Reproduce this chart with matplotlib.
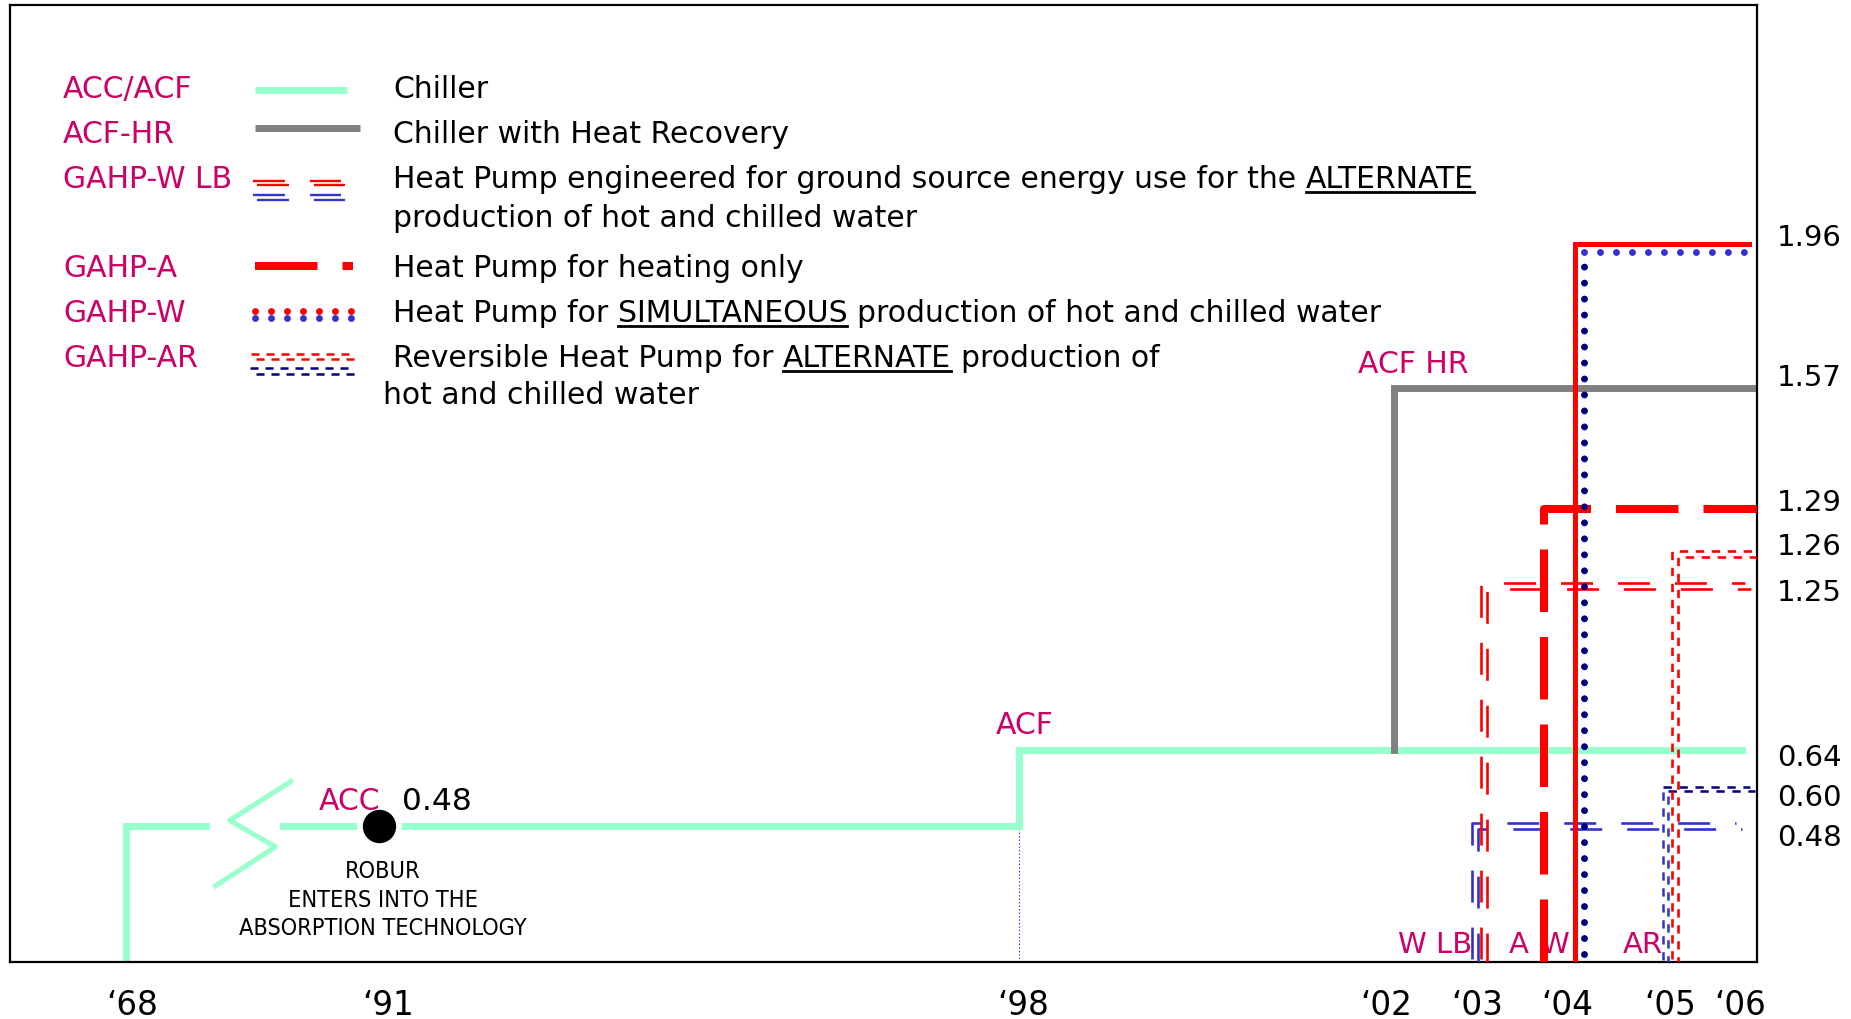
import numpy as np
import matplotlib
matplotlib.use("Agg")
import matplotlib.pyplot as plt
import matplotlib.patheffects as pe
import matplotlib.transforms as mtransforms
from matplotlib.lines import Line2D

W, H, DPI = 1851, 1020, 100

plt.rcParams["font.family"] = ["DejaVu Sans"]
plt.rcParams["lines.scale_dashes"] = False

MAGENTA = "#CC0066"
GREEN = "#99FFCC"
GRAY = "#808080"
RED = "#FF0000"
BLUE = "#3333CC"
NAVY = "#000080"

# ── schematic axes: where each year / COP level sits along the frame ──
axis_years = [1957.6, 1968, 1991, 1998, 2002, 2003, 2004, 2005, 2006, 2006.2]
axis_year_pos = [10, 126, 379, 1019, 1394, 1478, 1569, 1670, 1742, 1757]
year_ticks = [1968, 1991, 1998, 2002, 2003, 2004, 2005, 2006]
year_labels = ["‘68", "‘91", "‘98", "‘02", "‘03", "‘04", "‘05", "‘06"]
year_label_nudge = [4.3, 6.5, 2.9, -5.8, -0.7, -1.4, 0, -1.4]   # pt

axis_cop = [0.0, 0.48, 0.60, 0.64, 1.25, 1.26, 1.29, 1.57, 1.96, 2.60]
axis_cop_pos = [0, 136, 173, 212, 376, 408, 453, 574, 718, 957]
cop_ticks = [1.96, 1.57, 1.29, 1.26, 1.25, 0.64, 0.60, 0.48]
cop_label_nudge = [5, 8, 5, 6, -4, -5, -6, -8]   # pt, keeps labels apart

# ── product lines ──
chiller_years = [1968, 1998]          # ACC, then ACF
chiller_cop = [0.48, 0.64]
chiller_end = 2006
robur_year, robur_cop = 1991, 0.48

acf_hr_year, acf_hr_cop = 2002, 1.57
wlb_year, wlb_hot, wlb_cold = 2003, 1.25, 0.48
a_year, a_hot = 2003.72, 1.29
w_year, w_hot, w_cold = 2004.06, 1.96, 1.96
ar_year, ar_hot, ar_cold = 2005, 1.26, 0.60


def fwd_x(v):
    return np.interp(v, axis_years, axis_year_pos)


def inv_x(p):
    return np.interp(p, axis_year_pos, axis_years)


def fwd_y(v):
    return np.interp(v, axis_cop, axis_cop_pos)


def inv_y(p):
    return np.interp(p, axis_cop_pos, axis_cop)


fig = plt.figure(figsize=(W / DPI, H / DPI), dpi=DPI)
ax = fig.add_axes([10 / W, (H - 963) / H, 1747 / W, 957 / H])
ax.set_xscale("function", functions=(fwd_x, inv_x))
ax.set_yscale("function", functions=(fwd_y, inv_y))
X0, X1 = axis_years[0], axis_years[-1]
Y0, Y1 = axis_cop[0], axis_cop[-1]
ax.set_xlim(X0, X1)
ax.set_ylim(Y0, Y1)
for s in ax.spines.values():
    s.set_linewidth(1.6)
ax.set_xticks([])
ax.set_yticks([])
ax.minorticks_off()

# year labels under the frame
for yr, lab, dx in zip(year_ticks, year_labels, year_label_nudge):
    ax.annotate(lab, (yr, 0), xycoords=("data", "axes fraction"),
                xytext=(dx, -37.5), textcoords="offset points",
                ha="center", va="baseline", fontsize=23.5, annotation_clip=False)


def shifted(dx, dy):
    # nudge a line by a few points so overlapping steps stay readable
    return ax.transData + mtransforms.ScaledTranslation(dx / 72, dy / 72, fig.dpi_scale_trans)


def double(d):
    return [pe.Stroke(offset=(-d, d)), pe.Stroke(offset=(d, -d))]


def step(year, level, end=X1, base=Y0):
    return [year, year, end], [base, level, level]


# chiller ACC -> ACF
xs, ys = [chiller_years[0]], [Y0]
edges = chiller_years + [chiller_end]
for i, v in enumerate(chiller_cop):
    xs += [edges[i], edges[i + 1]]
    ys += [v, v]
ax.plot(xs, ys, color=GREEN, lw=5, solid_joinstyle="miter", zorder=2)

# axis break on the long ACC stretch
break_at = 1978.8
brk = (mtransforms.Affine2D().scale(1 / 72) + fig.dpi_scale_trans
       + mtransforms.ScaledTranslation(break_at, chiller_cop[0], ax.transData))
ax.add_line(Line2D([-22, 22], [0, 0], color="white", lw=6.5, transform=brk, zorder=2.2))
ax.add_line(Line2D([33, -11, 22, -21], [32, 4, -15, -43], color=GREEN, lw=3.6,
                   transform=brk, zorder=2.3))

# Robur entry point
ax.plot([robur_year], [robur_cop], "o", ms=31, color="white", zorder=2.4)
ax.plot([robur_year], [robur_cop], "o", ms=23, color="black", zorder=2.5)
ax.annotate("ACC", (robur_year, robur_cop), xytext=(1, 12), textcoords="offset points",
            ha="right", va="baseline", color=MAGENTA, fontsize=21.5)
ax.annotate(f"{robur_cop:.2f}", (robur_year, robur_cop), xytext=(16.5, 12),
            textcoords="offset points", ha="left", va="baseline", fontsize=22.5)
for i, line in enumerate(["ROBUR", "ENTERS INTO THE", "ABSORPTION TECHNOLOGY"]):
    ax.annotate(line, (robur_year, robur_cop), xytext=(3, -37 - 20.5 * i),
                textcoords="offset points", ha="center", va="baseline",
                fontsize=16.8, fontstretch="condensed")

# thin marker under the ACF step
ax.plot([chiller_years[1]] * 2, [Y0, chiller_cop[0]], color="#3333FF", lw=0.8,
        ls=(0, (1, 1.5)), zorder=1.5)
ax.annotate("ACF", (chiller_years[1], chiller_cop[1]), xytext=(4, 12),
            textcoords="offset points", ha="center", va="baseline", color=MAGENTA,
            fontsize=21.5)

# chiller with heat recovery
ax.plot([acf_hr_year, acf_hr_year, X1], [chiller_cop[1], acf_hr_cop, acf_hr_cop],
        color=GRAY, lw=5, solid_joinstyle="miter", zorder=2.2)
ax.annotate("ACF HR", (acf_hr_year, acf_hr_cop), xytext=(14, 11.5),
            textcoords="offset points", ha="center", va="baseline", color=MAGENTA,
            fontsize=21.5)

# GAHP-W LB
wlb_dash = (0, (23, 18))
x, y = step(wlb_year, wlb_cold, end=chiller_end)
ax.plot(x, y, color=BLUE, lw=1.9, ls=wlb_dash, transform=shifted(-2.2, 0),
        path_effects=double(1.85), zorder=3)
x, y = step(wlb_year, wlb_hot, end=chiller_end)
ax.plot(x, y, color=RED, lw=1.9, ls=wlb_dash, transform=shifted(4.3, 0),
        path_effects=double(1.95), zorder=3)

# GAHP-AR
ar_dash = (0, (6, 5.5))
x, y = step(ar_year, ar_cold)
ax.plot(x[:2], y[:2], color=BLUE, lw=1.8, ls=ar_dash, transform=shifted(-3, 0),
        path_effects=double(1.7), zorder=3)
ax.plot(x[1:], y[1:], color=NAVY, lw=1.8, ls=ar_dash, transform=shifted(-3, 0),
        path_effects=double(1.7), zorder=3)
x, y = step(ar_year, ar_hot)
ax.plot(x, y, color=RED, lw=1.9, ls=ar_dash, transform=shifted(3.6, 0),
        path_effects=double(2.1), zorder=3.1)

# GAHP-A
x, y = step(a_year, a_hot)
ax.plot(x, y, color=RED, lw=5.8, ls=(0, (45, 18)), dash_capstyle="butt", zorder=3.5)

# GAHP-W
x, y = step(w_year, w_hot, end=2006.1)
ax.plot(x, y, color=RED, lw=3.6, solid_joinstyle="miter", zorder=4)
x, y = step(w_year, w_cold)
dots = dict(lw=5, ls=(0, (0.01, 11.5)), dash_capstyle="round", zorder=4.1)
ax.plot(x[:2], y[:2], color=NAVY, transform=shifted(6.5, -5.8), **dots)
ax.plot(x[1:], y[1:], color=BLUE, transform=shifted(6.5, -5.8), **dots)

# series tags along the bottom
for tag, yr, dx in [("W LB", wlb_year, -4.5), ("A", a_year, -11),
                    ("W", w_year, -4.5), ("AR", ar_year, -5)]:
    ax.annotate(tag, (yr, Y0), xytext=(dx, 7), textcoords="offset points",
                ha="right", va="baseline", color=MAGENTA, fontsize=21)

# COP values on the right
for v, nudge in zip(cop_ticks, cop_label_nudge):
    ax.annotate(f"{v:.2f}", (1, v), xycoords=("axes fraction", "data"),
                xytext=(14.5, nudge), textcoords="offset points",
                ha="left", va="center", fontsize=21)

# ── key ──
px_tr = mtransforms.Affine2D().scale(1 / W, -1 / H).translate(0, 1) + fig.transFigure
renderer = fig.canvas.get_renderer()
desc_style = dict(fontsize=21.5, color="black")


def text_width(s, **kw):
    t = fig.text(0, 0, s, **kw)
    w = t.get_window_extent(renderer).width
    t.remove()
    return w


def advance(s, **kw):
    return text_width("|" + s + "|", **kw) - text_width("||", **kw)


def write_runs(x, y, runs, **kw):
    for s, underline in runs:
        lead = advance(s[:len(s) - len(s.lstrip())], **kw)
        t = fig.text(x + lead, y, s.strip(), transform=px_tr, ha="left",
                     va="baseline", **kw)
        if underline:
            w = t.get_window_extent(renderer).width
            fig.add_artist(Line2D([x + lead, x + lead + w], [y + 5, y + 5],
                                  transform=px_tr, color="black", lw=2))
        x += advance(s, **kw)


def swatch(x0, x1, y, **kw):
    fig.add_artist(Line2D([x0, x1], [y, y], transform=px_tr, **kw))


legend_tags = ["ACC/ACF", "ACF-HR", "GAHP-W LB", "GAHP-A", "GAHP-W", "GAHP-AR"]
legend_desc = [
    [("Chiller", False)],
    [("Chiller with Heat Recovery", False)],
    [("Heat Pump engineered for ground source energy use for the ", False),
     ("ALTERNATE", True)],
    [("Heat Pump for heating only", False)],
    [("Heat Pump for ", False), ("SIMULTANEOUS", True),
     (" production of hot and chilled water", False)],
    [("Reversible Heat Pump for ", False), ("ALTERNATE", True),
     (" production of", False)],
]
legend_more = {2: (393, 39, "production of hot and chilled water"),
               5: (383, 37, "hot and chilled water")}
row_base = [98, 143, 188, 277, 322, 367]

for i, (tag, runs) in enumerate(zip(legend_tags, legend_desc)):
    yb = row_base[i]
    fig.text(63, yb, tag, transform=px_tr, ha="left", va="baseline",
             color=MAGENTA, fontsize=21.5)
    write_runs(393, yb, runs, **desc_style)
    if i in legend_more:
        xm, dy, txt = legend_more[i]
        fig.text(xm, yb + dy, txt, transform=px_tr, ha="left", va="baseline",
                 **desc_style)

swatch(255, 347, 91, color=GREEN, lw=5, solid_capstyle="butt")
swatch(255, 360, 129, color=GRAY, lw=5, solid_capstyle="butt")
swatch(255, 343, 184, color=RED, lw=1.7, ls=wlb_dash, path_effects=double(1.5))
swatch(255, 343, 198.5, color=BLUE, lw=1.7, ls=wlb_dash, path_effects=double(1.7))
swatch(255, 353, 267, color=RED, lw=5.8, ls=(0, (45, 18)), dash_capstyle="butt")
swatch(255, 351, 312, color=RED, lw=5, ls=(0, (0.01, 11.5)), dash_capstyle="round")
swatch(255, 351, 319, color=BLUE, lw=5, ls=(0, (0.01, 11.5)), dash_capstyle="round")
swatch(253, 358, 357.5, color=RED, lw=1.8, ls=(0, (5.8, 5)), path_effects=double(1.8))
swatch(253, 358, 372, color=NAVY, lw=1.8, ls=(0, (5.8, 5)), path_effects=double(2))

fig.savefig("out.png", dpi=DPI)
